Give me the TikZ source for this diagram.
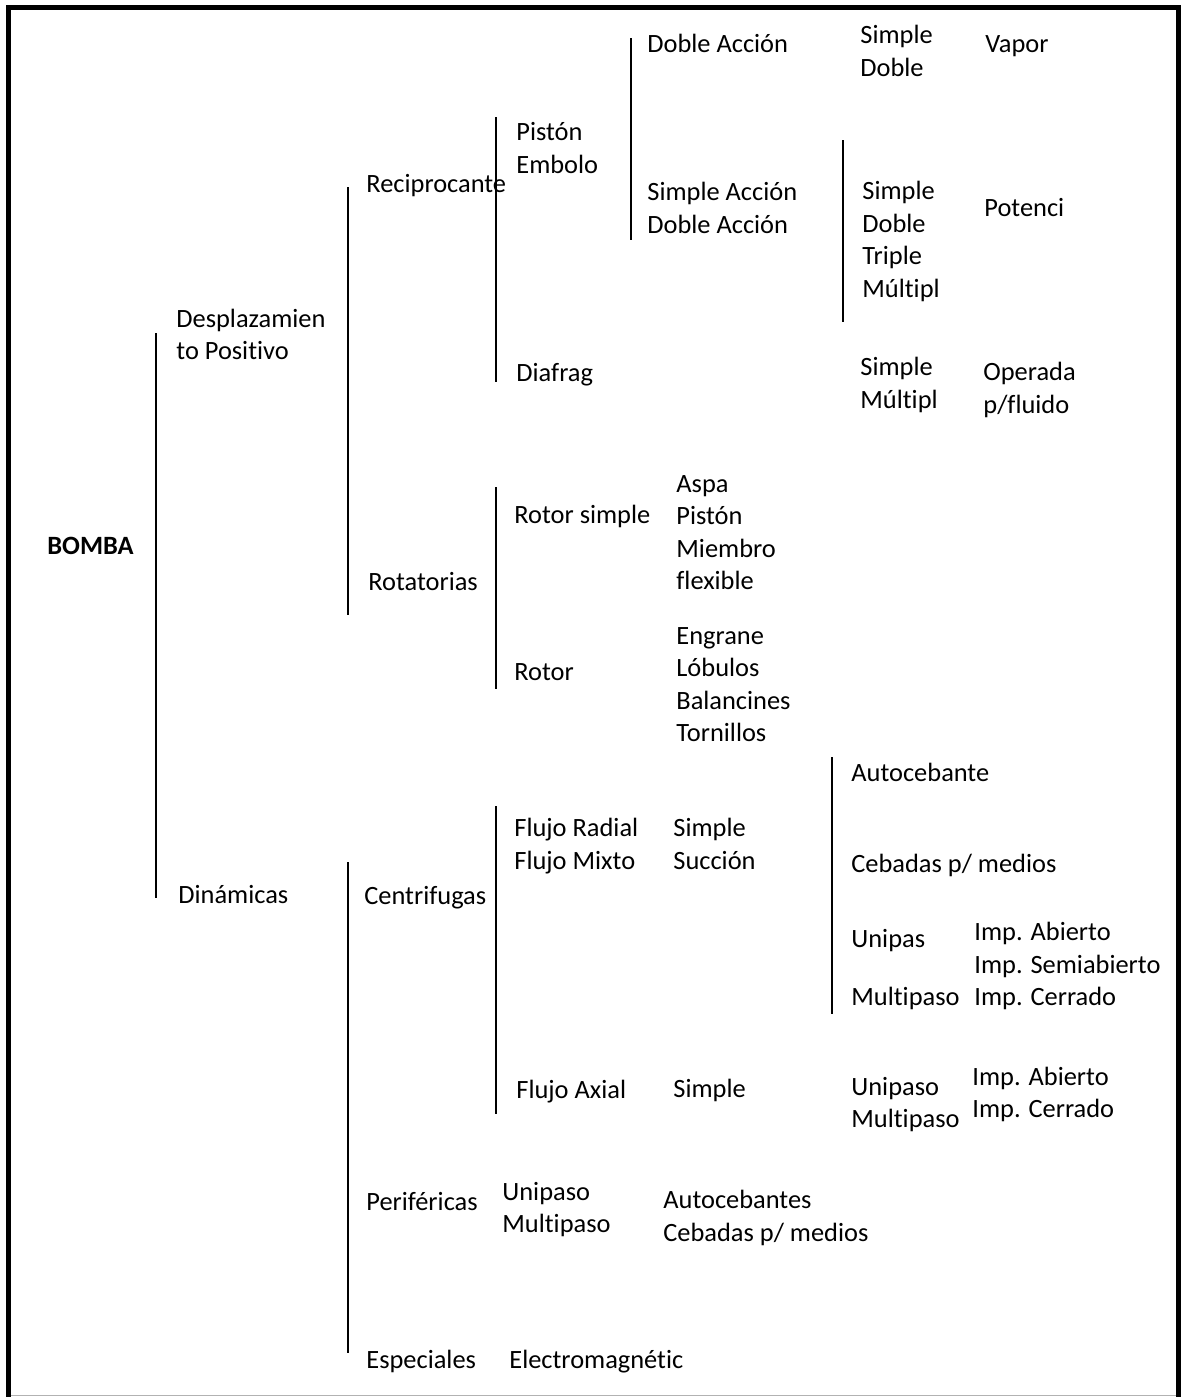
\documentclass[tikz,border=0pt]{standalone}
\usepackage{fontspec}
\setmainfont{Carlito}[RawFeature={-liga;-clig}]
\begin{document}
\begin{tikzpicture}[x=0.5pt,y=-0.5pt,
  lbl/.style={anchor=base west,inner sep=0pt,font=\fontsize{13.2}{16}\selectfont},
  bar/.style={line width=1pt,black}]
\useasboundingbox (0,0) rectangle (1181,1397);
% frame
\draw[line width=2.5pt,black] (8.5,1397) -- (8.5,7.5) -- (1178,7.5) -- (1178,1397);
\draw[line width=0.6pt,black!30] (11,1395.7) -- (1176,1395.7);
% level 0
\node[lbl,font=\fontsize{13.2}{16}\selectfont\bfseries] (bomba) at (47,554) {BOMBA};
% level 1
\node[lbl] (desp1) at (176,327) {Desplazamien};
\node[lbl] (desp2) at (176,359) {to Positivo};
\node[lbl] (din) at (178,903) {Dinámicas};
% level 2
\node[lbl] (recip) at (366,192) {Reciprocante};
\node[lbl] (rotat) at (368,590) {Rotatorias};
\node[lbl] (centr) at (364,904) {Centrifugas};
\node[lbl] (perif) at (366,1210) {Periféricas};
\node[lbl] (espec) at (366,1368) {Especiales};
% level 3
\node[lbl] (piston) at (516,140) {Pistón};
\node[lbl] (embolo) at (516,173) {Embolo};
\node[lbl] (diafrag) at (516,381) {Diafrag};
\node[lbl] (rotors) at (514,523) {Rotor simple};
\node[lbl] (rotor) at (514,680) {Rotor};
\node[lbl] (fradial) at (514,836) {Flujo Radial};
\node[lbl] (fmixto) at (514,869) {Flujo Mixto};
\node[lbl] (faxial) at (516,1098) {Flujo Axial};
\node[lbl] (puni) at (502,1200) {Unipaso};
\node[lbl] (pmulti) at (502,1232) {Multipaso};
\node[lbl] (electro) at (509,1368) {Electromagnétic};
% level 4
\node[lbl] (dacc1) at (647,52) {Doble Acción};
\node[lbl] (sacc) at (647,200) {Simple Acción};
\node[lbl] (dacc2) at (647,233) {Doble Acción};
\node[lbl] (aspa) at (676,492) {Aspa};
\node[lbl] (piston2) at (676,524) {Pistón};
\node[lbl] (miembro) at (676,557) {Miembro};
\node[lbl] (flexible) at (676,589) {flexible};
\node[lbl] (engrane) at (676,644) {Engrane};
\node[lbl] (lobulos) at (676,676) {Lóbulos};
\node[lbl] (balanc) at (676,709) {Balancines};
\node[lbl] (tornillos) at (676,741) {Tornillos};
\node[lbl] (csimple) at (673,836) {Simple};
\node[lbl] (csuccion) at (673,869) {Succión};
\node[lbl] (asimple) at (673,1097) {Simple};
\node[lbl] (pauto) at (663,1208) {Autocebantes};
\node[lbl] (pcebadas) at (663,1241) {Cebadas p/ medios};
% level 5
\node[lbl] (vsimple) at (860,43) {Simple};
\node[lbl] (vdoble) at (860,76) {Doble};
\node[lbl] (psimple) at (862,199) {Simple};
\node[lbl] (pdoble) at (862,232) {Doble};
\node[lbl] (ptriple) at (862,264) {Triple};
\node[lbl] (pmultipl) at (862,297) {Múltipl};
\node[lbl] (dsimple) at (860,375) {Simple};
\node[lbl] (dmultipl) at (860,408) {Múltipl};
\node[lbl] (auto) at (851,781) {Autocebante};
\node[lbl] (cebadas) at (851,872) {Cebadas p/ medios};
\node[lbl] (unipas) at (851,947) {Unipas};
\node[lbl] (multipaso1) at (851,1005) {Multipaso};
\node[lbl] (unipaso2) at (851,1095) {Unipaso};
\node[lbl] (multipaso2) at (851,1127) {Multipaso};
% level 6
\node[lbl] (vapor) at (985,52) {Vapor};
\node[lbl] (potenci) at (984,216) {Potenci};
\node[lbl] (operada) at (983,380) {Operada};
\node[lbl] (pfluido) at (983,413) {p/fluido};
\node[lbl] (iab1) at (974,940) {Imp. Abierto};
\node[lbl] (isemi) at (974,973) {Imp. Semiabierto};
\node[lbl] (icer1) at (974,1005) {Imp. Cerrado};
\node[lbl] (iab2) at (972,1085) {Imp. Abierto};
\node[lbl] (icer2) at (972,1117) {Imp. Cerrado};
% bracket bars
\coordinate (b1t) at (156,333);  \coordinate (b1b) at (156,898);
\coordinate (b2t) at (348,187);  \coordinate (b2b) at (348,615);
\coordinate (b3t) at (348,862);  \coordinate (b3b) at (348,1353);
\coordinate (b4t) at (496,117);  \coordinate (b4b) at (496,382);
\coordinate (b5t) at (496,487);  \coordinate (b5b) at (496,689);
\coordinate (b6t) at (496,806);  \coordinate (b6b) at (496,1114);
\coordinate (b7t) at (631,38);   \coordinate (b7b) at (631,240);
\coordinate (b8t) at (843,140);  \coordinate (b8b) at (843,322);
\coordinate (b9t) at (832,757);  \coordinate (b9b) at (832,1014);
\foreach \n in {1,...,9} \draw[bar] (b\n t) -- (b\n b);
\end{tikzpicture}
\end{document}
